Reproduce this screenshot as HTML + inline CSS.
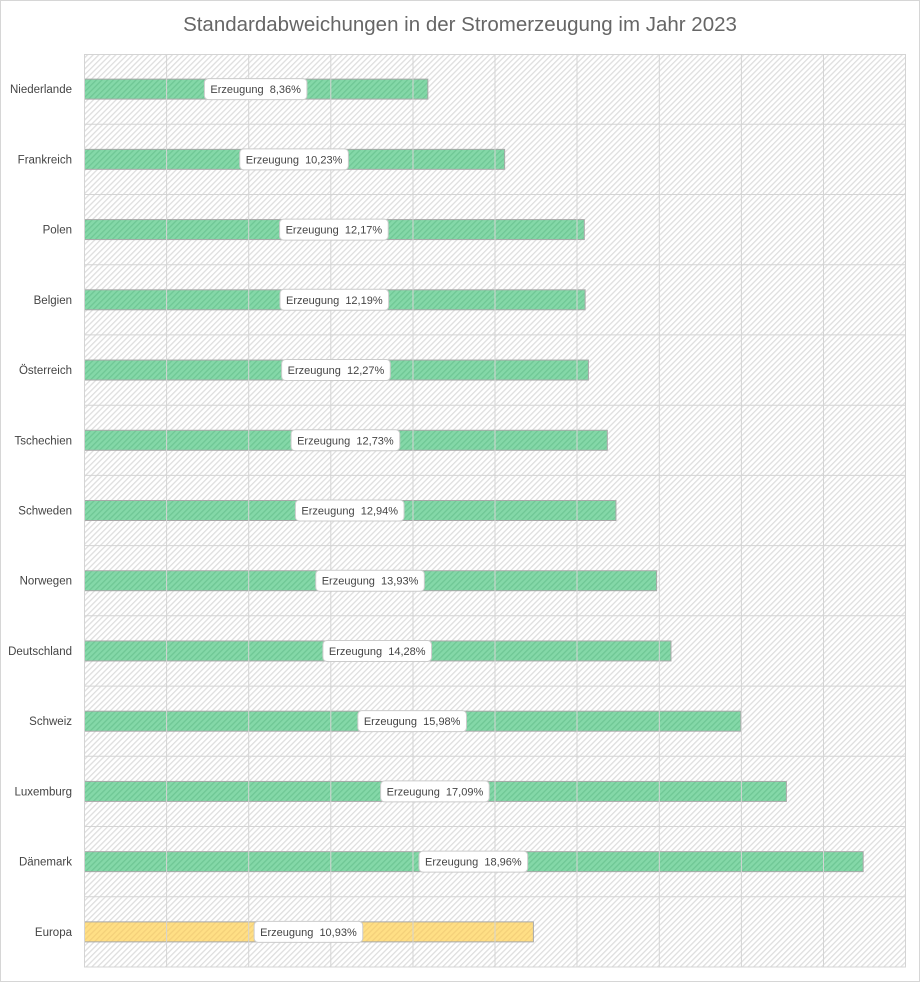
<!DOCTYPE html>
<html><head><meta charset="utf-8"><style>
html,body{margin:0;padding:0;background:#fff;}
svg{display:block;font-family:"Liberation Sans",sans-serif;}
</style></head><body>
<svg id="s" width="921" height="983" xmlns="http://www.w3.org/2000/svg">
<defs>
<pattern id="h" width="4" height="4" patternUnits="userSpaceOnUse" patternTransform="rotate(45)">
<rect width="4" height="4" fill="#fff"/><rect width="1.3" height="4" fill="#dedede"/>
</pattern>
<pattern id="g" width="4" height="4" patternUnits="userSpaceOnUse" patternTransform="rotate(45)">
<rect width="4" height="4" fill="#84d8a8"/><rect width="1.3" height="4" fill="#6fc795"/>
</pattern>
<pattern id="y" width="4" height="4" patternUnits="userSpaceOnUse" patternTransform="rotate(45)">
<rect width="4" height="4" fill="#ffdf85"/><rect width="1.3" height="4" fill="#f4d07a"/>
</pattern>
</defs>
<rect x="0.5" y="0.5" width="919" height="981" fill="#fff" stroke="#d6d6d6"/>
<text x="460" y="31" text-anchor="middle" font-size="20.5" fill="#666">Standardabweichungen  in der Stromerzeugung  im Jahr 2023</text>
<rect x="84" y="54" width="822" height="913" fill="url(#h)"/>
<g id="bars"></g>
<g stroke="#d4d4d4" stroke-width="1" fill="none">
<rect x="84.5" y="54.5" width="821" height="912.5"/>
<path d="M166.6 54V967M248.7 54V967M330.8 54V967M413 54V967M495 54V967M577 54V967M659.3 54V967M741.4 54V967M823.5 54V967"/>
<path d="M84 124.2H906M84 194.5H906M84 264.7H906M84 334.9H906M84 405.2H906M84 475.4H906M84 545.6H906M84 615.8H906M84 686.1H906M84 756.3H906M84 826.5H906M84 896.8H906"/>
</g>
<g id="labels"></g>
</svg>
<script>
var d=[["Niederlande",8.36,"8,36%"],["Frankreich",10.23,"10,23%"],["Polen",12.17,"12,17%"],["Belgien",12.19,"12,19%"],["Österreich",12.27,"12,27%"],["Tschechien",12.73,"12,73%"],["Schweden",12.94,"12,94%"],["Norwegen",13.93,"13,93%"],["Deutschland",14.28,"14,28%"],["Schweiz",15.98,"15,98%"],["Luxemburg",17.09,"17,09%"],["Dänemark",18.96,"18,96%"],["Europa",10.93,"10,93%"]];
var b="";
d.forEach(function(r,i){
var c=54+70.23*(i+0.5);var w=r[1]*41.07;var f=i==12?"url(#y)":"url(#g)";
b+='<rect x="84.5" y="'+(c-10)+'" width="'+w+'" height="20" fill="'+f+'" stroke="#a8a8a8"/>';
});
document.getElementById("bars").innerHTML=b;
var NS="http://www.w3.org/2000/svg",L=document.getElementById("labels");
function el(n,a,t){var e=document.createElementNS(NS,n);for(var k in a)e.setAttribute(k,a[k]);if(t)e.textContent=t;return e;}
d.forEach(function(r,i){
var c=54+70.23*(i+0.5);var w=r[1]*41.07;var mx=84+w/2;
L.appendChild(el("text",{x:72,y:c+4,"text-anchor":"end","font-size":"11.5",fill:"#444"},r[0]));
var rc=el("rect",{y:c-10.5,height:21,rx:4,fill:"#fff",stroke:"#ccc"});L.appendChild(rc);
var t=el("text",{x:mx,y:c+4,"text-anchor":"middle","font-size":"11",fill:"#444"},"Erzeugung\u00a0\u00a0"+r[2]);
L.appendChild(t);
var tw=t.getComputedTextLength();var bw=tw+12;
rc.setAttribute("x",mx-bw/2);rc.setAttribute("width",bw);
});
</script>
</body></html>
